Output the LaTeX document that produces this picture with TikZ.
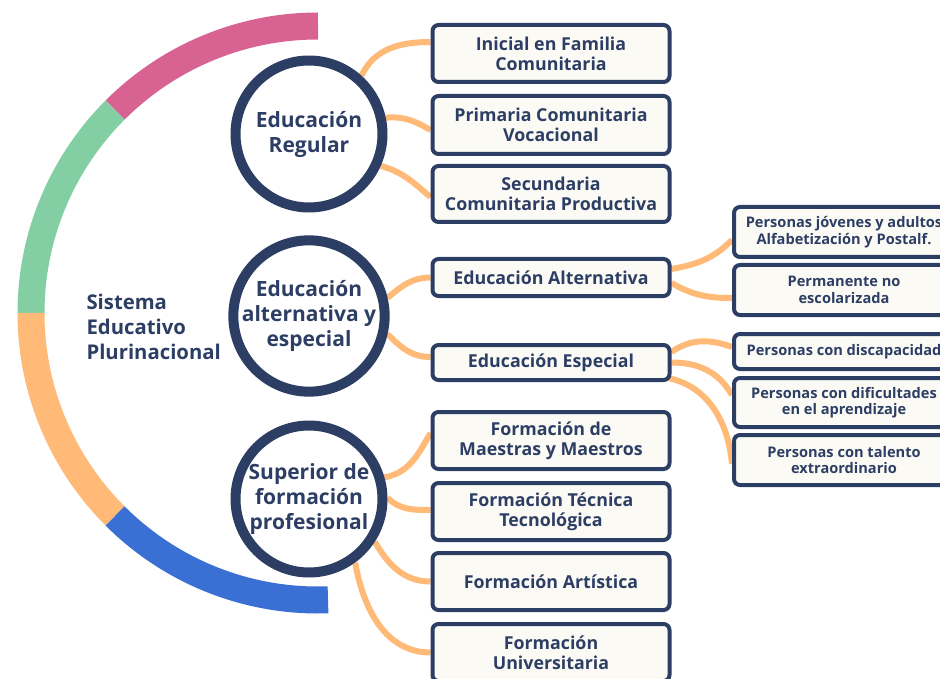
\documentclass[tikz,border=0pt]{standalone}
\usepackage{fontspec}
\setmainfont{Open Sans}
\definecolor{navy}{HTML}{2D3E65}
\definecolor{pinkc}{HTML}{D86292}
\definecolor{greenc}{HTML}{83CFA3}
\definecolor{orangec}{HTML}{FFBA77}
\definecolor{bluec}{HTML}{3A6FD4}
\definecolor{boxfill}{HTML}{FBFAF5}
\pgfdeclarelayer{bg}
\pgfsetlayers{bg,main}
\tikzset{
  hub/.style={circle, draw=navy, line width=10pt, fill=white, minimum size=147pt, inner sep=0pt,
    align=center, text=navy, font=\fontsize{21}{25}\selectfont\bfseries},
  lvbox/.style={draw=navy, line width=4pt, rounded corners=6pt, fill=boxfill, minimum width=237pt,
    inner sep=0pt, align=center, text=navy, font=\fontsize{17.8}{20}\selectfont\bfseries},
  rbox/.style={draw=navy, line width=4pt, rounded corners=6pt, fill=boxfill, minimum width=220pt,
    inner sep=0pt, align=center, text=navy, font=\fontsize{14.6}{16.5}\selectfont\bfseries},
  conn/.style={draw=orangec, line width=6pt},
  ring/.style={line width=27pt}
}
\begin{document}
\begin{tikzpicture}[x=1pt,y=1pt]
\useasboundingbox (0,0) rectangle (940,-679);
\clip (0,0) rectangle (940,-679);
% big ring
\coordinate (C) at (318,-313);
\draw[ring, pinkc] ([shift={(90:287pt)}]C) arc[start angle=90, end angle=135, radius=287pt];
\draw[ring, greenc] ([shift={(135:287pt)}]C) arc[start angle=135, end angle=180, radius=287pt];
\draw[ring, orangec] ([shift={(180:287pt)}]C) arc[start angle=180, end angle=225, radius=287pt];
\draw[ring, bluec] ([shift={(225:287pt)}]C) arc[start angle=225, end angle=272, radius=287pt];
\node[anchor=west, align=left, text=navy, font=\fontsize{20.3}{25}\selectfont\bfseries] (sis) at (83,-327) {Sistema\\Educativo\\Plurinacional};
% hubs
\node[hub] (reg) at (309,-134) {Educación\\Regular};
\node[hub] (alt) at (309,-316) {Educación\\alternativa y\\especial};
\node[hub] (sup) at (309,-499) {Superior de\\formación\\profesional};
% level 2 boxes
\node[lvbox, minimum height=57pt] (ini) at (551,-53.5) {Inicial en Familia\\Comunitaria};
\node[lvbox, minimum height=58pt] (pri) at (551,-125) {Primaria Comunitaria\\Vocacional};
\node[lvbox, minimum height=56pt] (sec) at (551,-194) {Secundaria\\Comunitaria Productiva};
\node[lvbox, minimum height=37pt] (eal) at (551,-277.5) {Educación Alternativa};
\node[lvbox, minimum height=35pt] (ees) at (551,-362.5) {Educación Especial};
\node[lvbox, minimum height=57pt] (fmm) at (551,-440.5) {Formación de\\Maestras y Maestros};
\node[lvbox, minimum height=57pt] (ftt) at (551,-511.5) {Formación Técnica\\Tecnológica};
\node[lvbox, minimum height=57pt] (fa) at (551,-581.5) {Formación Artística};
\node[lvbox, minimum height=57pt] (fu) at (551,-652.5) {Formación\\Universitaria};
% right boxes
\node[rbox, minimum height=50pt] (jov) at (844,-232) {Personas jóvenes y adultos\\Alfabetización y Postalf.};
\node[rbox, minimum height=50pt] (per) at (844,-290) {Permanente no\\escolarizada};
\node[rbox, minimum height=35pt] (dis) at (844,-351.5) {Personas con discapacidad};
\node[rbox, minimum height=49pt] (dif) at (844,-402.5) {Personas con dificultades\\en el aprendizaje};
\node[rbox, minimum height=50pt] (tal) at (844,-460) {Personas con talento\\extraordinario};
% connectors
\begin{pgfonlayer}{bg}
\draw[conn] (reg.48) to[out=65, in=180] ([yshift=11.5pt]ini.west);
\draw[conn] (reg.12) to[out=5, in=150] ([yshift=-5pt]pri.west);
\draw[conn] (reg.-24) to[out=-15, in=140] ([yshift=-3pt]sec.west);
\draw[conn] (alt.13) to[out=40, in=180] (eal.west);
\draw[conn] (alt.-13) to[out=-45, in=180] ([yshift=5.5pt]ees.west);
\draw[conn] (sup.16) to[out=10, in=-120] ([yshift=7.5pt]fmm.west);
\draw[conn] (sup.1) to[out=-45, in=180] ([yshift=1.5pt]ftt.west);
\draw[conn] (sup.-33) to[out=-60, in=180] (fa.west);
\draw[conn] (sup.-54) to[out=-80, in=180] (fu.west);
\draw[conn] ([yshift=8.5pt]eal.east) to[out=10, in=-135] ([yshift=-8pt]jov.west);
\draw[conn] ([yshift=-5.5pt]eal.east) to[out=-30, in=180] ([yshift=-8pt]per.west);
\draw[conn] ([yshift=10.5pt]ees.east) to[out=35, in=160] ([yshift=4.5pt]dis.west);
\draw[conn] (ees.east) to[out=0, in=120] ([yshift=7.5pt]dif.west);
\draw[conn] ([xshift=-6pt,yshift=-15pt]ees.east) to[out=-10, in=95] ([yshift=-4pt]tal.west);
\end{pgfonlayer}
\end{tikzpicture}
\end{document}
